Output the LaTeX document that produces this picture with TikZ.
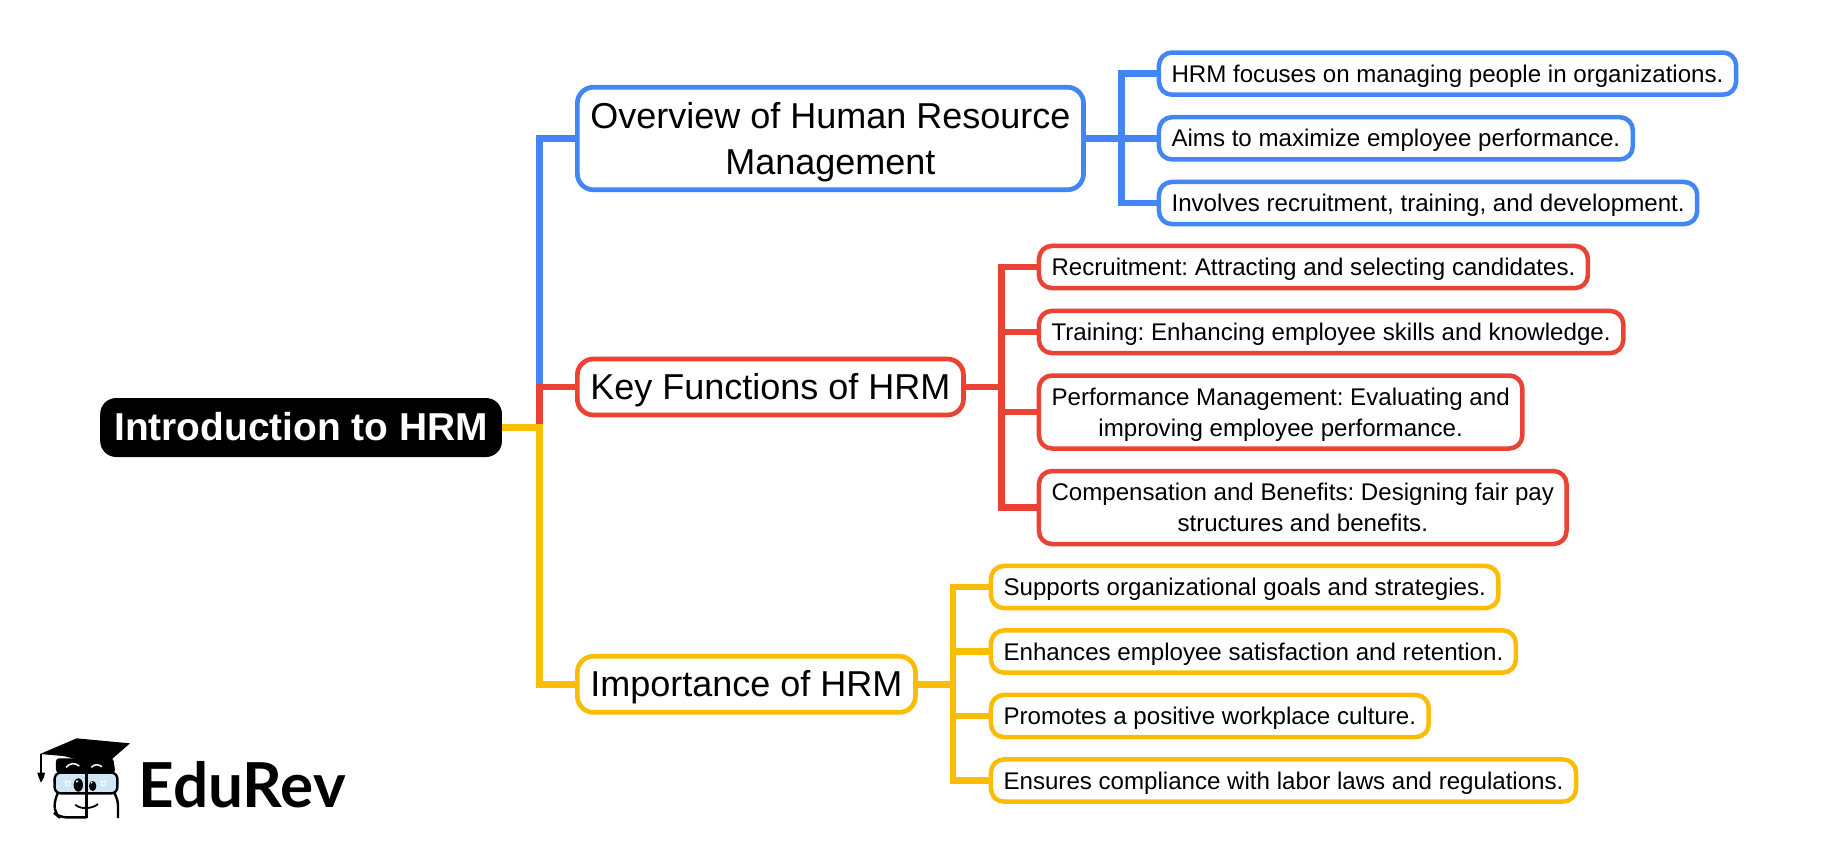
\documentclass[tikz,border=0pt]{standalone}
\usepackage{fontspec}
\setmainfont{Liberation Sans}
\newfontfamily\logofont{Lato}
\definecolor{hrmblue}{HTML}{4285F4}
\definecolor{hrmred}{HTML}{EA4335}
\definecolor{hrmyellow}{HTML}{FBBC05}
\definecolor{glassblue}{HTML}{CFE6F5}
\newcommand{\midstrut}{\rule[-9pt]{0pt}{42.8pt}}
\newcommand{\leafstrut}{\rule[-6pt]{0pt}{29pt}}
\newcommand{\lineup}[1]{\rule{0pt}{#1}}
\tikzset{
rootbox/.style={fill=black, text=white, rounded corners=16pt, inner xsep=14pt, inner ysep=0pt, minimum height=59pt, anchor=west, text depth=2pt, font=\fontsize{38.9}{38.9}\selectfont\bfseries},
midbox/.style={draw=#1, fill=white, line width=4.7pt, rounded corners=16pt, inner xsep=13pt, inner ysep=0pt, anchor=west, align=center, font=\fontsize{36}{46}\selectfont, execute at begin node=\midstrut, execute at end node=\midstrut},
leafbox/.style={draw=#1, fill=white, line width=4.5pt, rounded corners=13pt, inner xsep=12.6pt, inner ysep=0pt, anchor=west, align=center, font=\fontsize{24.1}{31}\selectfont, execute at begin node=\leafstrut, execute at end node=\leafstrut},
link/.style={draw=#1, line width=6.5pt}
}
\begin{document}
\frenchspacing
\begin{tikzpicture}[x=1pt,y=-1pt]
\useasboundingbox (0,0) rectangle (1838,855);
% root and main branches
\node[rootbox] (root) at (100,427.5) {Introduction to HRM};
\node[midbox=hrmblue, minimum height=102.5pt] (over) at (575,138.5) {\lineup{35.4pt}Overview of Human Resource\\Management};
\node[midbox=hrmred, minimum height=56pt] (key) at (575,387) {Key Functions of HRM};
\node[midbox=hrmyellow, minimum height=56pt] (imp) at (575,684.3) {Importance of HRM};
% overview leaves
\node[leafbox=hrmblue, minimum height=42.2pt] (ov1) at (1156.7,73.6) {HRM focuses on managing people in organizations.};
\node[leafbox=hrmblue, minimum height=42.2pt] (ov2) at (1156.7,138.3) {Aims to maximize employee performance.};
\node[leafbox=hrmblue, minimum height=42.2pt] (ov3) at (1156.7,203) {Involves recruitment, training, and development.};
% key function leaves
\node[leafbox=hrmred, minimum height=42.2pt] (ke1) at (1036.7,267) {Recruitment: Attracting and selecting candidates.};
\node[leafbox=hrmred, minimum height=42.2pt] (ke2) at (1036.7,332) {Training: Enhancing employee skills and knowledge.};
\node[leafbox=hrmred, minimum height=73pt] (ke3) at (1036.7,412) {\lineup{23.8pt}Performance Management: Evaluating and\\improving employee performance.};
\node[leafbox=hrmred, minimum height=73pt] (ke4) at (1036.7,507.5) {\lineup{23.8pt}Compensation and Benefits: Designing fair pay\\structures and benefits.};
% importance leaves
\node[leafbox=hrmyellow, minimum height=42.2pt] (im1) at (988.7,587) {Supports organizational goals and strategies.};
\node[leafbox=hrmyellow, minimum height=42.2pt] (im2) at (988.7,651.5) {Enhances employee satisfaction and retention.};
\node[leafbox=hrmyellow, minimum height=42.2pt] (im3) at (988.7,716) {Promotes a positive workplace culture.};
\node[leafbox=hrmyellow, minimum height=42.2pt] (im4) at (988.7,780.5) {Ensures compliance with labor laws and regulations.};
% trunks
\coordinate (roottrunk) at (539.3,427.5);
\coordinate (ovtrunk) at (1121.3,138.5);
\coordinate (ketrunk) at (1001.7,387);
\coordinate (imtrunk) at (953,684.3);
% connectors
\draw[link=hrmblue] (roottrunk) |- (over.west);
\draw[link=hrmred] (roottrunk) |- (key.west);
\draw[link=hrmyellow] (root.east) -- (roottrunk) |- (imp.west);
\foreach \n in {ov1,ov2,ov3}
  \draw[link=hrmblue] (over.east) -- (ovtrunk) |- (\n.west);
\foreach \n in {ke1,ke2,ke3,ke4}
  \draw[link=hrmred] (key.east) -- (ketrunk) |- (\n.west);
\foreach \n in {im1,im2,im3,im4}
  \draw[link=hrmyellow] (imp.east) -- (imtrunk) |- (\n.west);
% logo
\begin{scope}[shift={(30,730)},x=0.3333pt,y=-0.3333pt]
\fill[rounded corners=3pt] (78,85) -- (78,128) -- (256,128) -- (250,85) -- cycle;
\fill (30,72) -- (140,25) -- (300,40) -- (222,108) -- (100,78) -- cycle;
\draw[white,line width=1.5pt] (108,112) .. controls (120,98) and (135,98) .. (148,108);
\draw[white,line width=1.5pt] (184,112) .. controls (194,102) and (204,102) .. (216,110);
\draw[line width=1.3pt] (33,72) -- (33,128);
\fill (22,128) -- (45,128) -- (42,142) -- (33,158) -- (26,142) -- cycle;
\draw[line width=2.4pt,fill=glassblue,rounded corners=6pt] (74,128) rectangle (262,190);
\draw[line width=2.4pt,rounded corners=7pt] (82,192) -- (74,205) -- (74,250) -- (88,262) -- (170,262);
\draw[line width=2.4pt,rounded corners=7pt] (255,192) -- (264,205) -- (264,264);
\draw[line width=2.4pt] (170,124) -- (170,264);
\fill (145,165) ellipse [x radius=14, y radius=20];
\fill (188,168) ellipse [x radius=11, y radius=15];
\fill[white] (141,154) circle [radius=4];
\fill[white] (185,158) circle [radius=3];
\draw[white,line width=1pt] (108,154) rectangle (120,166);
\draw[white,line width=1pt] (216,154) rectangle (228,166);
\draw[line width=1.8pt] (136,224) .. controls (150,238) and (185,238) .. (204,222);
\end{scope}
\node[anchor=base west, inner sep=0pt, font=\fontsize{62}{62}\selectfont\logofont\bfseries] (logo) at (138.5,807) {EduRev};
\end{tikzpicture}
\end{document}
